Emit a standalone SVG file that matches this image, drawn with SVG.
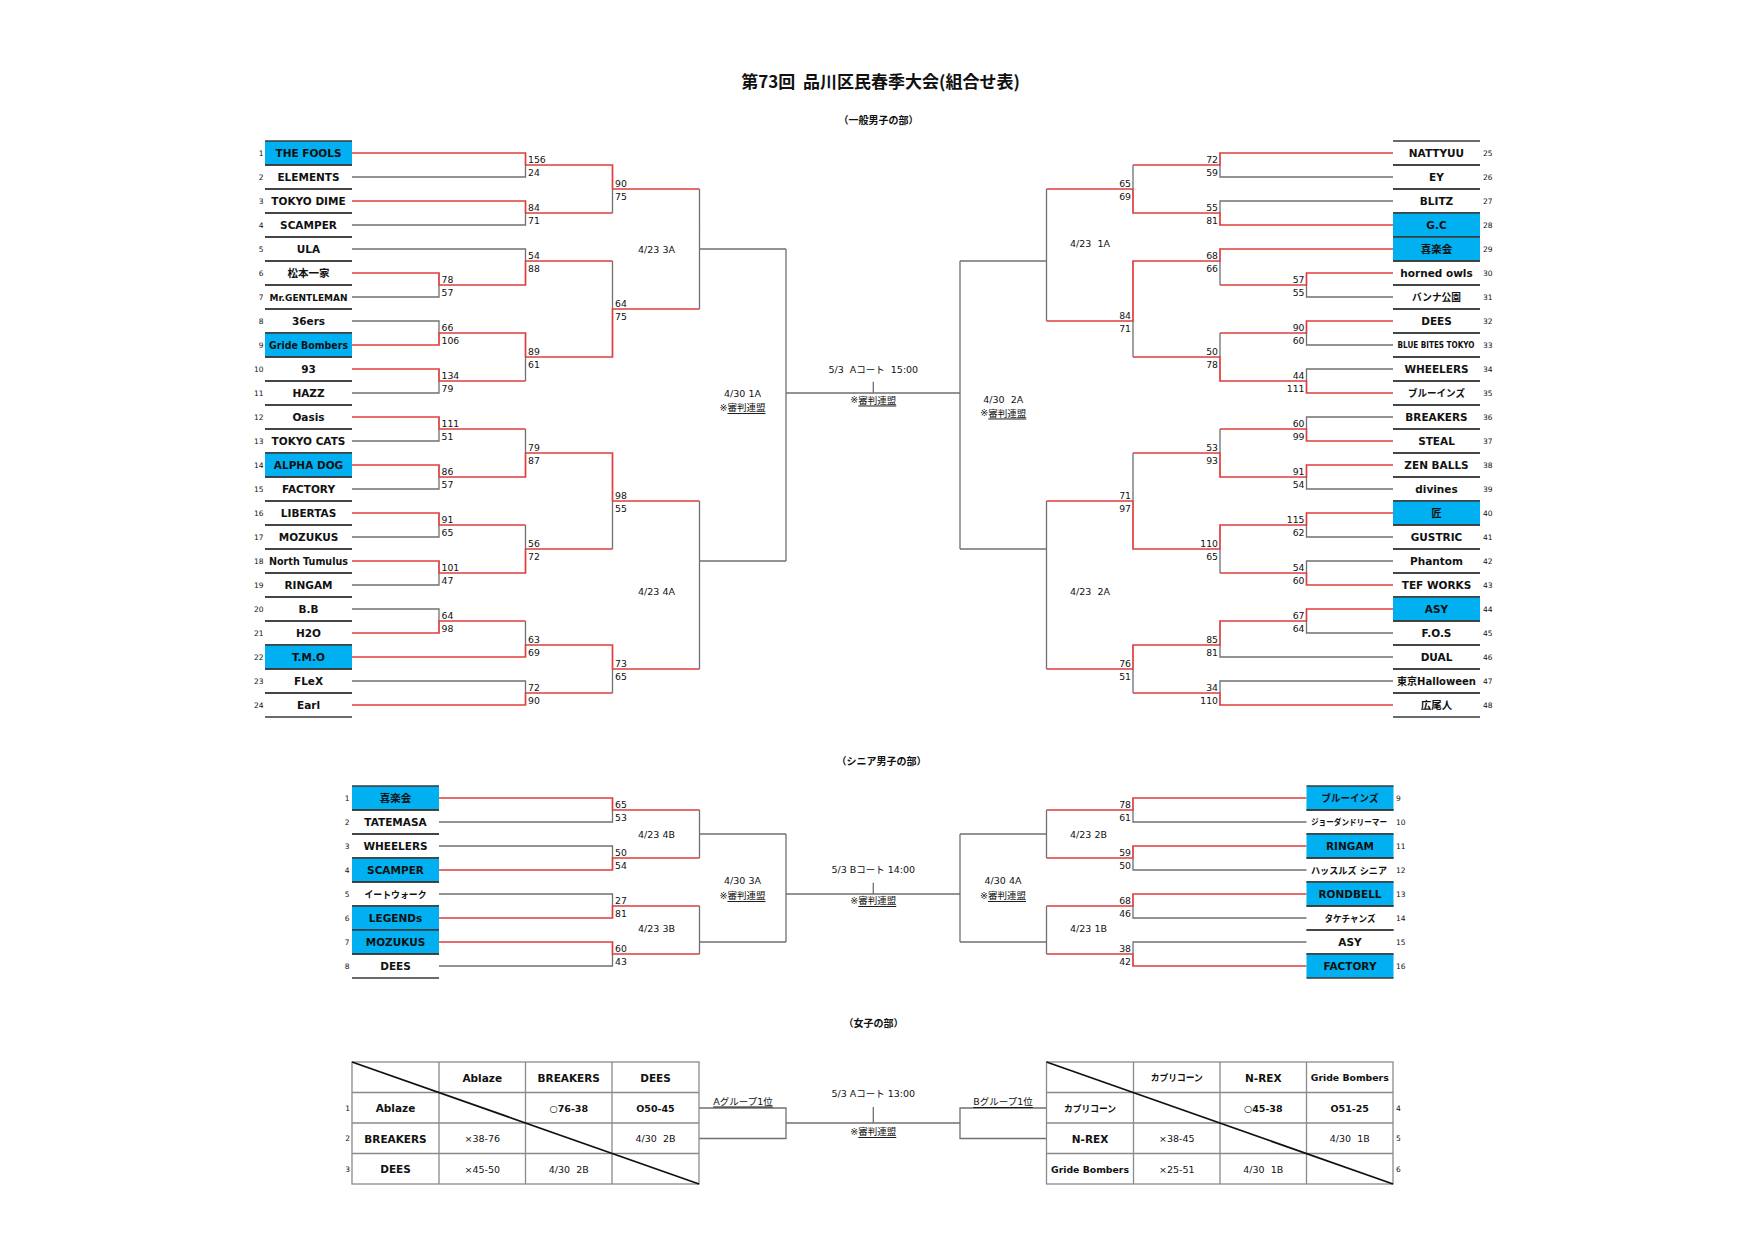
<svg xmlns="http://www.w3.org/2000/svg" xmlns:xlink="http://www.w3.org/1999/xlink" width="1754" height="1240" viewBox="0 0 1754 1240">
<style>
text{font-family:"DejaVu Sans","Noto Sans CJK JP",sans-serif;dominant-baseline:central;fill:#111;white-space:pre}
.nm{font-size:10.5px;font-weight:bold;text-anchor:middle}
.no{font-size:7.5px}
.nl{text-anchor:end}
.nr{text-anchor:start}
.s{font-size:9.3px}
.sl{text-anchor:start}
.sr{text-anchor:end}
.lb{font-size:9.5px;text-anchor:middle}
.hd{font-family:"Noto Sans CJK JP",sans-serif;font-weight:bold;text-anchor:middle}
.r{stroke:#e03c3c;stroke-width:1.7;fill:none}
.g{stroke:#707070;stroke-width:1.3;fill:none}
.bx{fill:#00b0f0}
.rl{stroke:#3a3a3a;stroke-width:1.6}
.tb{fill:none;stroke:#8a8a8a;stroke-width:1.3}
.dg{stroke:#111;stroke-width:1.8}
.u{text-decoration:underline}
.tt{font-size:10.5px;font-weight:bold;text-anchor:middle}
.tr{font-size:9.5px;text-anchor:middle}
</style>
<defs>
<path id="rw" class="rl" d="M0-12h87M0 12h87"/>
</defs>
<rect width="1754" height="1240" fill="#fff"/>
<g id="headings">
<text class="hd" x="880.5" y="80" style="font-size:17px">第73回  品川区民春季大会(組合せ表)</text>
<text class="hd" x="878.5" y="119.5" style="font-size:10px">（一般男子の部）</text>
<text class="hd" x="881.5" y="760.5" style="font-size:10px">（シニア男子の部）</text>
<text class="hd" x="873.5" y="1022.5" style="font-size:10px">（女子の部）</text>
</g>
<g id="connectors">
<path class="r" d="M352 153H525.5V165H612.5V189H699.5M352 201H525.5V213H612.5M352 273H439V285H525.5V261H612.5M352 345H439V333H525.5V357H612.5V309H699.5M352 369H439V381H525.5M352 417H439V429H525.5M352 465H439V477H525.5V453H612.5V501H699.5M352 513H439V525H525.5M352 561H439V573H525.5V549H612.5M352 633H439V621H525.5M352 657H525.5V645H612.5V669H699.5M352 705H525.5V693H612.5"/>
<path class="g" d="M352 177H525.5V165M612.5 213V189M352 225H525.5V213M352 249H525.5V261M612.5 261V309M352 297H439V285M352 321H439V333M525.5 381V357M352 393H439V381M525.5 429V453M352 441H439V429M352 489H439V477M525.5 525V549M352 537H439V525M612.5 549V501M352 585H439V573M352 609H439V621M525.5 621V645M352 681H525.5V693M612.5 693V669M699.5 189V309M699.5 501V669M699.5 249H786M699.5 561H786M786 249V561M786 393H960"/>
<path class="r" d="M1393 153H1220V165H1133M1393 225H1220V213H1133V189H1046.5M1393 249H1220V261H1133V321H1046.5M1393 273H1306.5V285H1220M1393 321H1306.5V333H1220M1393 393H1306.5V381H1220V357H1133M1393 441H1306.5V429H1220M1393 465H1306.5V477H1220V453H1133M1393 513H1306.5V525H1220V549H1133V501H1046.5M1393 585H1306.5V573H1220M1393 609H1306.5V621H1220V645H1133V669H1046.5M1393 705H1220V693H1133"/>
<path class="g" d="M1133 165V189M1393 177H1220V165M1393 201H1220V213M1220 285V261M1393 297H1306.5V285M1220 333V357M1393 345H1306.5V333M1393 369H1306.5V381M1133 357V321M1393 417H1306.5V429M1220 429V453M1133 453V501M1393 489H1306.5V477M1393 537H1306.5V525M1393 561H1306.5V573M1220 573V549M1393 633H1306.5V621M1393 657H1220V645M1393 681H1220V693M1133 693V669M1046.5 189V321M1046.5 501V669M1046.5 261H960M1046.5 549H960M960 261V549"/>
<path class="r" d="M439 798H612.5V810H699.5M439 870H612.5V858H699.5M439 918H612.5V906H699.5M439 942H612.5V954H699.5"/>
<path class="g" d="M699.5 810V858M439 822H612.5V810M439 846H612.5V858M439 894H612.5V906M699.5 906V954M439 966H612.5V954M699.5 834H786M699.5 942H786M786 834V942M786 894H960"/>
<path class="r" d="M1306.5 798H1133V810H1046.5M1306.5 846H1133V858H1046.5M1306.5 894H1133V906H1046.5M1306.5 966H1133V954H1046.5"/>
<path class="g" d="M1046.5 810V858M1306.5 822H1133V810M1306.5 870H1133V858M1306.5 918H1133V906M1306.5 942H1133V954M1046.5 906V954M1046.5 834H960M1046.5 942H960M960 834V942"/>
<path class="g" d="M699 1108H786V1138.5H699M786 1123H960M1046.5 1108H960V1138.5H1046.5"/>
<path class="g" stroke="#444" d="M873.3 381.7V393M873.3 882.7V894M873.3 1107V1123"/>
</g>
<g id="scores">
<g class="s sl">
<text x="528" y="159">156</text><text x="528" y="172">24</text>
<text x="528" y="207">84</text><text x="528" y="220">71</text>
<text x="615" y="183">90</text><text x="615" y="196">75</text>
<text x="441.5" y="279">78</text><text x="441.5" y="292">57</text>
<text x="528" y="255">54</text><text x="528" y="268">88</text>
<text x="441.5" y="327">66</text><text x="441.5" y="340">106</text>
<text x="441.5" y="375">134</text><text x="441.5" y="388">79</text>
<text x="528" y="351">89</text><text x="528" y="364">61</text>
<text x="615" y="303">64</text><text x="615" y="316">75</text>
<text x="441.5" y="423">111</text><text x="441.5" y="436">51</text>
<text x="441.5" y="471">86</text><text x="441.5" y="484">57</text>
<text x="528" y="447">79</text><text x="528" y="460">87</text>
<text x="441.5" y="519">91</text><text x="441.5" y="532">65</text>
<text x="441.5" y="567">101</text><text x="441.5" y="580">47</text>
<text x="528" y="543">56</text><text x="528" y="556">72</text>
<text x="615" y="495">98</text><text x="615" y="508">55</text>
<text x="441.5" y="615">64</text><text x="441.5" y="628">98</text>
<text x="528" y="639">63</text><text x="528" y="652">69</text>
<text x="528" y="687">72</text><text x="528" y="700">90</text>
<text x="615" y="663">73</text><text x="615" y="676">65</text>
<text x="615" y="804">65</text><text x="615" y="817">53</text>
<text x="615" y="852">50</text><text x="615" y="865">54</text>
<text x="615" y="900">27</text><text x="615" y="913">81</text>
<text x="615" y="948">60</text><text x="615" y="961">43</text>
</g>
<g class="s sr">
<text x="1218" y="159">72</text><text x="1218" y="172">59</text>
<text x="1218" y="207">55</text><text x="1218" y="220">81</text>
<text x="1131" y="183">65</text><text x="1131" y="196">69</text>
<text x="1304.5" y="279">57</text><text x="1304.5" y="292">55</text>
<text x="1218" y="255">68</text><text x="1218" y="268">66</text>
<text x="1304.5" y="327">90</text><text x="1304.5" y="340">60</text>
<text x="1304.5" y="375">44</text><text x="1304.5" y="388">111</text>
<text x="1218" y="351">50</text><text x="1218" y="364">78</text>
<text x="1131" y="315">84</text><text x="1131" y="328">71</text>
<text x="1304.5" y="423">60</text><text x="1304.5" y="436">99</text>
<text x="1304.5" y="471">91</text><text x="1304.5" y="484">54</text>
<text x="1218" y="447">53</text><text x="1218" y="460">93</text>
<text x="1304.5" y="519">115</text><text x="1304.5" y="532">62</text>
<text x="1304.5" y="567">54</text><text x="1304.5" y="580">60</text>
<text x="1218" y="543">110</text><text x="1218" y="556">65</text>
<text x="1131" y="495">71</text><text x="1131" y="508">97</text>
<text x="1304.5" y="615">67</text><text x="1304.5" y="628">64</text>
<text x="1218" y="639">85</text><text x="1218" y="652">81</text>
<text x="1218" y="687">34</text><text x="1218" y="700">110</text>
<text x="1131" y="663">76</text><text x="1131" y="676">51</text>
<text x="1131" y="804">78</text><text x="1131" y="817">61</text>
<text x="1131" y="852">59</text><text x="1131" y="865">50</text>
<text x="1131" y="900">68</text><text x="1131" y="913">46</text>
<text x="1131" y="948">38</text><text x="1131" y="961">42</text>
</g>
</g>
<g id="labels" class="lb">
<text x="656.5" y="249.5">4/23 3A</text>
<text x="656.5" y="591">4/23 4A</text>
<text x="742.5" y="393.5">4/30 1A</text>
<text x="742.5" y="407">※<tspan class="u">審判連盟</tspan></text>
<text x="1090" y="243.5">4/23  1A</text>
<text x="1090" y="591">4/23  2A</text>
<text x="1003.3" y="399.5">4/30  2A</text>
<text x="1003.3" y="412.5">※<tspan class="u">審判連盟</tspan></text>
<text x="873.3" y="369.5">5/3  Aコート  15:00</text>
<text x="873.3" y="399.5">※<tspan class="u">審判連盟</tspan></text>
<text x="656.5" y="834">4/23 4B</text>
<text x="656.5" y="928.5">4/23 3B</text>
<text x="742.5" y="880">4/30 3A</text>
<text x="742.5" y="895">※<tspan class="u">審判連盟</tspan></text>
<text x="1088.5" y="834">4/23 2B</text>
<text x="1088.5" y="928.5">4/23 1B</text>
<text x="1003" y="880">4/30 4A</text>
<text x="1003" y="895">※<tspan class="u">審判連盟</tspan></text>
<text x="873.3" y="869.5">5/3 Bコート 14:00</text>
<text x="873.3" y="900">※<tspan class="u">審判連盟</tspan></text>
<text x="743" y="1101" class="u">Aグループ1位</text>
<text x="1003" y="1101.5" class="u">Bグループ1位</text>
<text x="873.3" y="1093">5/3 Aコート 13:00</text>
<text x="873.3" y="1131">※<tspan class="u">審判連盟</tspan></text>
</g>
<g id="men-left">
<g id="m1"><rect class="bx" x="265" y="141" width="87" height="24"/><use href="#rw" x="265" y="153"/><text class="nm" x="308.5" y="153">THE FOOLS</text><text class="no nl" x="263.5" y="153">1</text></g>
<g id="m2"><use href="#rw" x="265" y="177"/><text class="nm" x="308.5" y="177">ELEMENTS</text><text class="no nl" x="263.5" y="177">2</text></g>
<g id="m3"><use href="#rw" x="265" y="201"/><text class="nm" x="308.5" y="201">TOKYO DIME</text><text class="no nl" x="263.5" y="201">3</text></g>
<g id="m4"><use href="#rw" x="265" y="225"/><text class="nm" x="308.5" y="225">SCAMPER</text><text class="no nl" x="263.5" y="225">4</text></g>
<g id="m5"><use href="#rw" x="265" y="249"/><text class="nm" x="308.5" y="249">ULA</text><text class="no nl" x="263.5" y="249">5</text></g>
<g id="m6"><use href="#rw" x="265" y="273"/><text class="nm" x="308.5" y="273">松本一家</text><text class="no nl" x="263.5" y="273">6</text></g>
<g id="m7"><use href="#rw" x="265" y="297"/><text class="nm" x="308.5" y="297" style="font-size:9.5px" textLength="78" lengthAdjust="spacingAndGlyphs">Mr.GENTLEMAN</text><text class="no nl" x="263.5" y="297">7</text></g>
<g id="m8"><use href="#rw" x="265" y="321"/><text class="nm" x="308.5" y="321">36ers</text><text class="no nl" x="263.5" y="321">8</text></g>
<g id="m9"><rect class="bx" x="265" y="333" width="87" height="24"/><use href="#rw" x="265" y="345"/><text class="nm" x="308.5" y="345" style="font-size:9.7px" textLength="79" lengthAdjust="spacingAndGlyphs">Gride Bombers</text><text class="no nl" x="263.5" y="345">9</text></g>
<g id="m10"><use href="#rw" x="265" y="369"/><text class="nm" x="308.5" y="369">93</text><text class="no nl" x="263.5" y="369">10</text></g>
<g id="m11"><use href="#rw" x="265" y="393"/><text class="nm" x="308.5" y="393">HAZZ</text><text class="no nl" x="263.5" y="393">11</text></g>
<g id="m12"><use href="#rw" x="265" y="417"/><text class="nm" x="308.5" y="417">Oasis</text><text class="no nl" x="263.5" y="417">12</text></g>
<g id="m13"><use href="#rw" x="265" y="441"/><text class="nm" x="308.5" y="441">TOKYO CATS</text><text class="no nl" x="263.5" y="441">13</text></g>
<g id="m14"><rect class="bx" x="265" y="453" width="87" height="24"/><use href="#rw" x="265" y="465"/><text class="nm" x="308.5" y="465">ALPHA DOG</text><text class="no nl" x="263.5" y="465">14</text></g>
<g id="m15"><use href="#rw" x="265" y="489"/><text class="nm" x="308.5" y="489">FACTORY</text><text class="no nl" x="263.5" y="489">15</text></g>
<g id="m16"><use href="#rw" x="265" y="513"/><text class="nm" x="308.5" y="513">LIBERTAS</text><text class="no nl" x="263.5" y="513">16</text></g>
<g id="m17"><use href="#rw" x="265" y="537"/><text class="nm" x="308.5" y="537">MOZUKUS</text><text class="no nl" x="263.5" y="537">17</text></g>
<g id="m18"><use href="#rw" x="265" y="561"/><text class="nm" x="308.5" y="561" style="font-size:9.7px" textLength="79" lengthAdjust="spacingAndGlyphs">North Tumulus</text><text class="no nl" x="263.5" y="561">18</text></g>
<g id="m19"><use href="#rw" x="265" y="585"/><text class="nm" x="308.5" y="585">RINGAM</text><text class="no nl" x="263.5" y="585">19</text></g>
<g id="m20"><use href="#rw" x="265" y="609"/><text class="nm" x="308.5" y="609">B.B</text><text class="no nl" x="263.5" y="609">20</text></g>
<g id="m21"><use href="#rw" x="265" y="633"/><text class="nm" x="308.5" y="633">H2O</text><text class="no nl" x="263.5" y="633">21</text></g>
<g id="m22"><rect class="bx" x="265" y="645" width="87" height="24"/><use href="#rw" x="265" y="657"/><text class="nm" x="308.5" y="657">T.M.O</text><text class="no nl" x="263.5" y="657">22</text></g>
<g id="m23"><use href="#rw" x="265" y="681"/><text class="nm" x="308.5" y="681">FLeX</text><text class="no nl" x="263.5" y="681">23</text></g>
<g id="m24"><use href="#rw" x="265" y="705"/><text class="nm" x="308.5" y="705">Earl</text><text class="no nl" x="263.5" y="705">24</text></g>
</g>
<g id="men-right">
<g id="m25"><use href="#rw" x="1393" y="153"/><text class="nm" x="1436.5" y="153">NATTYUU</text><text class="no nr" x="1483" y="153">25</text></g>
<g id="m26"><use href="#rw" x="1393" y="177"/><text class="nm" x="1436.5" y="177">EY</text><text class="no nr" x="1483" y="177">26</text></g>
<g id="m27"><use href="#rw" x="1393" y="201"/><text class="nm" x="1436.5" y="201">BLITZ</text><text class="no nr" x="1483" y="201">27</text></g>
<g id="m28"><rect class="bx" x="1393" y="213" width="87" height="24"/><use href="#rw" x="1393" y="225"/><text class="nm" x="1436.5" y="225">G.C</text><text class="no nr" x="1483" y="225">28</text></g>
<g id="m29"><rect class="bx" x="1393" y="237" width="87" height="24"/><use href="#rw" x="1393" y="249"/><text class="nm" x="1436.5" y="249">喜楽会</text><text class="no nr" x="1483" y="249">29</text></g>
<g id="m30"><use href="#rw" x="1393" y="273"/><text class="nm" x="1436.5" y="273">horned owls</text><text class="no nr" x="1483" y="273">30</text></g>
<g id="m31"><use href="#rw" x="1393" y="297"/><text class="nm" x="1436.5" y="297" style="font-size:10.2px" textLength="49" lengthAdjust="spacingAndGlyphs">バンナ公園</text><text class="no nr" x="1483" y="297">31</text></g>
<g id="m32"><use href="#rw" x="1393" y="321"/><text class="nm" x="1436.5" y="321">DEES</text><text class="no nr" x="1483" y="321">32</text></g>
<g id="m33"><use href="#rw" x="1393" y="345"/><text class="nm" x="1436" y="345" style="font-size:8px" textLength="77" lengthAdjust="spacingAndGlyphs">BLUE BITES TOKYO</text><text class="no nr" x="1483" y="345">33</text></g>
<g id="m34"><use href="#rw" x="1393" y="369"/><text class="nm" x="1436.5" y="369">WHEELERS</text><text class="no nr" x="1483" y="369">34</text></g>
<g id="m35"><use href="#rw" x="1393" y="393"/><text class="nm" x="1436.5" y="393" style="font-size:10px" textLength="57" lengthAdjust="spacingAndGlyphs">ブルーインズ</text><text class="no nr" x="1483" y="393">35</text></g>
<g id="m36"><use href="#rw" x="1393" y="417"/><text class="nm" x="1436.5" y="417">BREAKERS</text><text class="no nr" x="1483" y="417">36</text></g>
<g id="m37"><use href="#rw" x="1393" y="441"/><text class="nm" x="1436.5" y="441">STEAL</text><text class="no nr" x="1483" y="441">37</text></g>
<g id="m38"><use href="#rw" x="1393" y="465"/><text class="nm" x="1436.5" y="465">ZEN BALLS</text><text class="no nr" x="1483" y="465">38</text></g>
<g id="m39"><use href="#rw" x="1393" y="489"/><text class="nm" x="1436.5" y="489">divines</text><text class="no nr" x="1483" y="489">39</text></g>
<g id="m40"><rect class="bx" x="1393" y="501" width="87" height="24"/><use href="#rw" x="1393" y="513"/><text class="nm" x="1436.5" y="513">匠</text><text class="no nr" x="1483" y="513">40</text></g>
<g id="m41"><use href="#rw" x="1393" y="537"/><text class="nm" x="1436.5" y="537">GUSTRIC</text><text class="no nr" x="1483" y="537">41</text></g>
<g id="m42"><use href="#rw" x="1393" y="561"/><text class="nm" x="1436.5" y="561">Phantom</text><text class="no nr" x="1483" y="561">42</text></g>
<g id="m43"><use href="#rw" x="1393" y="585"/><text class="nm" x="1436.5" y="585">TEF WORKS</text><text class="no nr" x="1483" y="585">43</text></g>
<g id="m44"><rect class="bx" x="1393" y="597" width="87" height="24"/><use href="#rw" x="1393" y="609"/><text class="nm" x="1436.5" y="609">ASY</text><text class="no nr" x="1483" y="609">44</text></g>
<g id="m45"><use href="#rw" x="1393" y="633"/><text class="nm" x="1436.5" y="633">F.O.S</text><text class="no nr" x="1483" y="633">45</text></g>
<g id="m46"><use href="#rw" x="1393" y="657"/><text class="nm" x="1436.5" y="657">DUAL</text><text class="no nr" x="1483" y="657">46</text></g>
<g id="m47"><use href="#rw" x="1393" y="681"/><text class="nm" x="1436.5" y="681" style="font-size:10px" textLength="79" lengthAdjust="spacingAndGlyphs">東京Halloween</text><text class="no nr" x="1483" y="681">47</text></g>
<g id="m48"><use href="#rw" x="1393" y="705"/><text class="nm" x="1436.5" y="705">広尾人</text><text class="no nr" x="1483" y="705">48</text></g>
</g>
<g id="senior-left">
<g id="s1"><rect class="bx" x="352" y="786" width="87" height="24"/><use href="#rw" x="352" y="798"/><text class="nm" x="395.5" y="798">喜楽会</text><text class="no nl" x="349.5" y="798">1</text></g>
<g id="s2"><use href="#rw" x="352" y="822"/><text class="nm" x="395.5" y="822">TATEMASA</text><text class="no nl" x="349.5" y="822">2</text></g>
<g id="s3"><use href="#rw" x="352" y="846"/><text class="nm" x="395.5" y="846">WHEELERS</text><text class="no nl" x="349.5" y="846">3</text></g>
<g id="s4"><rect class="bx" x="352" y="858" width="87" height="24"/><use href="#rw" x="352" y="870"/><text class="nm" x="395.5" y="870">SCAMPER</text><text class="no nl" x="349.5" y="870">4</text></g>
<g id="s5"><use href="#rw" x="352" y="894"/><text class="nm" x="395.5" y="894" style="font-size:9.6px" textLength="62" lengthAdjust="spacingAndGlyphs">イートウォーク</text><text class="no nl" x="349.5" y="894">5</text></g>
<g id="s6"><rect class="bx" x="352" y="906" width="87" height="24"/><use href="#rw" x="352" y="918"/><text class="nm" x="395.5" y="918">LEGENDs</text><text class="no nl" x="349.5" y="918">6</text></g>
<g id="s7"><rect class="bx" x="352" y="930" width="87" height="24"/><use href="#rw" x="352" y="942"/><text class="nm" x="395.5" y="942">MOZUKUS</text><text class="no nl" x="349.5" y="942">7</text></g>
<g id="s8"><use href="#rw" x="352" y="966"/><text class="nm" x="395.5" y="966">DEES</text><text class="no nl" x="349.5" y="966">8</text></g>
</g>
<g id="senior-right">
<g id="s9"><rect class="bx" x="1306.5" y="786" width="87" height="24"/><use href="#rw" x="1306.5" y="798"/><text class="nm" x="1350" y="798" style="font-size:10px" textLength="57" lengthAdjust="spacingAndGlyphs">ブルーインズ</text><text class="no nr" x="1396" y="798">9</text></g>
<g id="s10"><use href="#rw" x="1306.5" y="822"/><text class="nm" x="1349" y="822" style="font-size:8.4px" textLength="76" lengthAdjust="spacingAndGlyphs">ジョーダンドリーマー</text><text class="no nr" x="1396" y="822">10</text></g>
<g id="s11"><rect class="bx" x="1306.5" y="834" width="87" height="24"/><use href="#rw" x="1306.5" y="846"/><text class="nm" x="1350" y="846">RINGAM</text><text class="no nr" x="1396" y="846">11</text></g>
<g id="s12"><use href="#rw" x="1306.5" y="870"/><text class="nm" x="1349" y="870" style="font-size:9.4px" textLength="76" lengthAdjust="spacingAndGlyphs">ハッスルズ シニア</text><text class="no nr" x="1396" y="870">12</text></g>
<g id="s13"><rect class="bx" x="1306.5" y="882" width="87" height="24"/><use href="#rw" x="1306.5" y="894"/><text class="nm" x="1350" y="894">RONDBELL</text><text class="no nr" x="1396" y="894">13</text></g>
<g id="s14"><use href="#rw" x="1306.5" y="918"/><text class="nm" x="1350" y="918" style="font-size:9.5px" textLength="51" lengthAdjust="spacingAndGlyphs">タケチャンズ</text><text class="no nr" x="1396" y="918">14</text></g>
<g id="s15"><use href="#rw" x="1306.5" y="942"/><text class="nm" x="1350" y="942">ASY</text><text class="no nr" x="1396" y="942">15</text></g>
<g id="s16"><rect class="bx" x="1306.5" y="954" width="87" height="24"/><use href="#rw" x="1306.5" y="966"/><text class="nm" x="1350" y="966">FACTORY</text><text class="no nr" x="1396" y="966">16</text></g>
</g>
<g id="women-A">
<rect class="tb" x="352" y="1062" width="347" height="122"/>
<path class="tb" d="M439 1062V1184M525.5 1062V1184M612 1062V1184M352 1092.5H699M352 1123H699M352 1153.5H699"/>
<path class="dg" d="M352 1062L699 1184"/>
<text class="tt" x="482.25" y="1077.5">Ablaze</text>
<text class="tt" x="568.75" y="1077.5">BREAKERS</text>
<text class="tt" x="655.5" y="1077.5">DEES</text>
<text class="tt" x="395.5" y="1108">Ablaze</text>
<text class="tt" x="568.75" y="1108" style="font-size:9.5px">○76-38</text>
<text class="tt" x="655.5" y="1108" style="font-size:9.5px">O50-45</text>
<text class="tt" x="395.5" y="1138.5">BREAKERS</text>
<text class="tr" x="482.25" y="1138.5">×38-76</text>
<text class="tr" x="655.5" y="1138.5">4/30  2B</text>
<text class="tt" x="395.5" y="1169">DEES</text>
<text class="tr" x="482.25" y="1169">×45-50</text>
<text class="tr" x="568.75" y="1169">4/30  2B</text>
<text class="no nl" x="350" y="1108">1</text>
<text class="no nl" x="350" y="1138.5">2</text>
<text class="no nl" x="350" y="1169">3</text>
</g>
<g id="women-B">
<rect class="tb" x="1046.5" y="1062" width="346.5" height="122"/>
<path class="tb" d="M1133.5 1062V1184M1220 1062V1184M1306.5 1062V1184M1046.5 1092.5H1393M1046.5 1123H1393M1046.5 1153.5H1393"/>
<path class="dg" d="M1046.5 1062L1393 1184"/>
<text class="tt" x="1176.75" y="1077.5" style="font-size:9.6px" textLength="52" lengthAdjust="spacingAndGlyphs">カプリコーン</text>
<text class="tt" x="1263.25" y="1077.5">N-REX</text>
<text class="tt" x="1349.75" y="1077.5" style="font-size:9.4px" textLength="78" lengthAdjust="spacingAndGlyphs">Gride Bombers</text>
<text class="tt" x="1090" y="1108" style="font-size:9.6px" textLength="52" lengthAdjust="spacingAndGlyphs">カプリコーン</text>
<text class="tt" x="1263.25" y="1108" style="font-size:9.5px">○45-38</text>
<text class="tt" x="1349.75" y="1108" style="font-size:9.5px">O51-25</text>
<text class="tt" x="1090" y="1138.5">N-REX</text>
<text class="tr" x="1176.75" y="1138.5">×38-45</text>
<text class="tr" x="1349.75" y="1138.5">4/30  1B</text>
<text class="tt" x="1090" y="1169" style="font-size:9.4px" textLength="78" lengthAdjust="spacingAndGlyphs">Gride Bombers</text>
<text class="tr" x="1176.75" y="1169">×25-51</text>
<text class="tr" x="1263.25" y="1169">4/30  1B</text>
<text class="no nr" x="1396" y="1108">4</text>
<text class="no nr" x="1396" y="1138.5">5</text>
<text class="no nr" x="1396" y="1169">6</text>
</g>
</svg>
